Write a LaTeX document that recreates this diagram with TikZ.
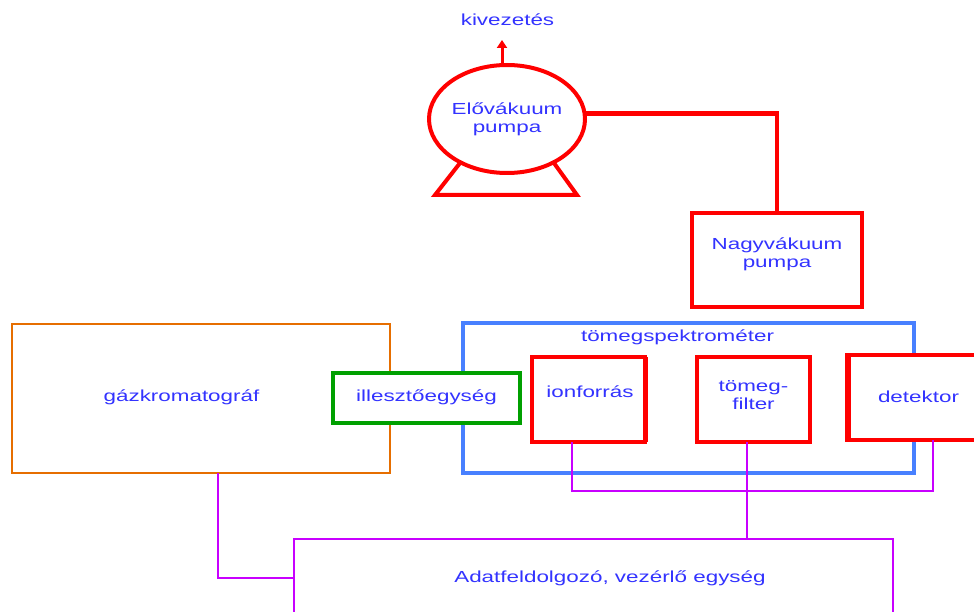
\documentclass[tikz,border=0pt]{standalone}
\usepackage{fontspec}
\setmainfont{Liberation Sans}[FakeStretch=1.4]
\usetikzlibrary{shapes.geometric,arrows.meta,calc}
\definecolor{txtblue}{RGB}{51,51,255}
\definecolor{msblue}{RGB}{72,128,255}
\definecolor{gcorange}{RGB}{230,110,0}
\definecolor{illgreen}{RGB}{0,160,0}
\definecolor{sigpurple}{RGB}{200,0,255}
\tikzset{
  lbl/.style={text=txtblue, font=\fontsize{16}{18}\selectfont, align=center, inner sep=0pt},
  box/.style={draw=#1, rectangle, inner sep=0pt, outer sep=0pt},
  redbox/.style={box=red, line width=4.5pt, fill=white},
  sig/.style={draw=sigpurple, line width=2.5pt},
  vac/.style={draw=red, line width=4.5pt}
}
\begin{document}
\begin{tikzpicture}[x=1pt,y=-1pt]
\clip (0,0) rectangle (974,612);
\fill[white] (0,0) rectangle (974,612);

% vacuum part
\node[draw=red, line width=4pt, ellipse, minimum width=156pt, minimum height=108pt, inner sep=0pt, outer sep=0pt] (pump) at (507,119) {};
\node[lbl] (pumptxt) at (507,119) {Elővákuum\\pumpa};
\coordinate (legl) at (435,195);
\coordinate (legr) at (577,195);
\draw[vac, line width=4pt, line join=miter] (pump.223) -- (legl) -- (legr) -- (pump.317);
\coordinate (outtop) at (502,40);
\draw[draw=red, line width=3pt, -{Triangle[width=10pt,length=8pt]}] (502,65) -- (outtop);
\node[lbl] (kiv) at (507.5,20) {kivezetés};

\node[redbox, minimum width=170pt, minimum height=94pt] (nv) at (777,260) {};
\node[lbl] (nvtxt) at (777,254) {Nagyvákuum\\pumpa};
\draw[vac, line join=miter] (pump.4) -| (nv.north);

% mass spectrometer frame
\node[box=msblue, line width=4.5pt, minimum width=451pt, minimum height=150pt] (ms) at (688.5,398) {};
\node[lbl] (mstxt) at (677.5,337) {tömegspektrométer};

% gas chromatograph
\node[box=gcorange, line width=2.5pt, minimum width=378pt, minimum height=149pt] (gc) at (201,398.5) {};
\node[lbl] (gctxt) at (181.5,397) {gázkromatográf};

% interface
\node[box=illgreen, line width=4pt, fill=white, minimum width=187pt, minimum height=50pt] (ill) at (426.5,398) {};
\node[lbl] (illtxt) at (426.5,397) {illesztőegység};

% units
\node[redbox, minimum width=113pt, minimum height=85pt] (ion) at (588.5,399.5) {};
\draw[red, line width=3pt] ([xshift=1.5pt]ion.north east) -- ([xshift=1.5pt]ion.south east);
\node[lbl] (iontxt) at (590,392) {ionforrás};

\node[redbox, minimum width=113pt, minimum height=85pt] (filt) at (753.5,399.5) {};
\node[lbl] (filttxt) at (753.5,395) {tömeg-\\filter};

\node[redbox, minimum width=143pt, minimum height=85pt] (det) at (918.5,397.5) {};
\draw[red, line width=3pt] ([xshift=2pt]det.north west) -- ([xshift=2pt]det.south west);
\node[lbl] (dettxt) at (918.5,397) {detektor};

% data unit
\node[box=sigpurple, line width=2.5pt, minimum width=599pt, minimum height=78pt] (data) at (593.5,578) {};
\node[lbl] (datatxt) at (610,578) {Adatfeldolgozó, vezérlő egység};

% signal lines
\coordinate (ionout) at (572,442);
\coordinate (filtout) at (747,442);
\coordinate (detout) at (933,440);
\coordinate (gcout) at (218,473);
\draw[sig] (ionout) |- (detout |- 0,491) -- (detout);
\draw[sig] (filtout) -- (filtout |- data.north);
\draw[sig] (gcout) |- (data.west);
\end{tikzpicture}
\end{document}
